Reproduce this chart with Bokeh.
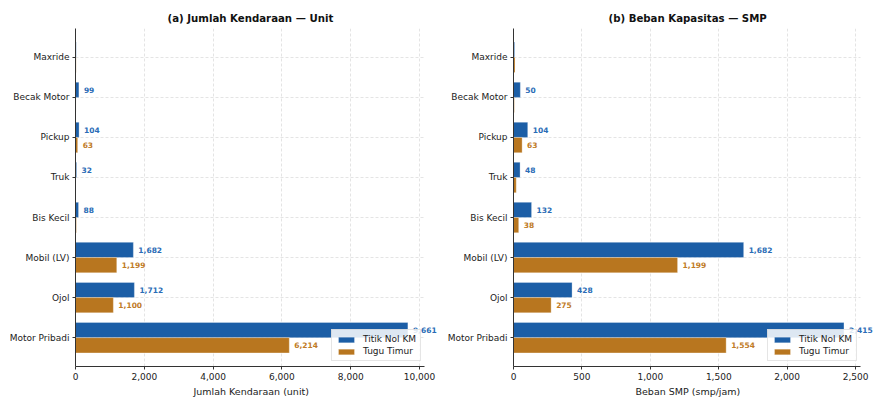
from bokeh.plotting import figure
from bokeh.models import (ColumnDataSource, FactorRange, Range1d, LabelSet,
                          Legend, LegendItem, NumeralTickFormatter, FixedTicker,
                          Title)
from bokeh.core.properties import value
from bokeh.transform import dodge
from bokeh.layouts import row
from bokeh.embed import file_html
from bokeh.resources import INLINE

# Vehicle classes, top to bottom
categories = ["Maxride", "Becak Motor", "Pickup", "Truk", "Bis Kecil",
              "Mobil (LV)", "Ojol", "Motor Pribadi"]

# Vehicle counts (unit)
unit_titik_nol = [20, 99, 104, 32, 88, 1682, 1712, 9661]
unit_tugu_timur = [18, 15, 63, 13, 25, 1199, 1100, 6214]

# Capacity load (smp/jam)
smp_titik_nol = [8, 50, 104, 48, 132, 1682, 428, 2415]
smp_tugu_timur = [11, 6, 63, 20, 38, 1199, 275, 1554]

unit_ticks = [0, 2000, 4000, 6000, 8000, 10000]
smp_ticks = [0, 500, 1000, 1500, 2000, 2500]

series_names = ["Titik Nol KM", "Tugu Timur"]
BLUE = "#1c5ea6"
ORANGE = "#b8761f"
BLUE_TXT = "#2a6cb6"
ORANGE_TXT = "#c07b26"
FONT = "DejaVu Sans"
LABEL_MIN = 30


def panel(title, title_offset, blue_vals, orange_vals, ticks, xlabel,
          xlabel_offset, width, left, right, frame_px, axis_px):
    factors = list(reversed(categories))
    y_range = FactorRange(factors=factors, range_padding=0.055)
    # axis spans 5% beyond the longest bar; the frame keeps extra room
    # on the right so the longest value label is not clipped
    axis_max = max(blue_vals + orange_vals) * 1.05
    x_max = axis_max * frame_px / axis_px
    p = figure(width=width, height=402, y_range=y_range,
               x_range=Range1d(0, x_max), title=title,
               output_backend="svg", toolbar_location=None,
               min_border_left=left, min_border_right=right,
               min_border_top=28, min_border_bottom=36)
    p.outline_line_color = None
    p.background_fill_color = "white"

    src_b = ColumnDataSource(dict(
        cat=categories, v=blue_vals,
        txt=[f"{v:,}" if v >= LABEL_MIN else "" for v in blue_vals]))
    src_o = ColumnDataSource(dict(
        cat=categories, v=orange_vals,
        txt=[f"{v:,}" if v >= LABEL_MIN else "" for v in orange_vals]))

    rb = p.hbar(y=dodge("cat", 0.19, range=p.y_range), right="v", left=0,
                height=0.38, source=src_b, fill_color=BLUE,
                line_color="white", line_width=0.3)
    ro = p.hbar(y=dodge("cat", -0.19, range=p.y_range), right="v", left=0,
                height=0.38, source=src_o, fill_color=ORANGE,
                line_color="white", line_width=0.3)

    for src, off, col in ((src_b, 0.19, BLUE_TXT), (src_o, -0.19, ORANGE_TXT)):
        lbl = LabelSet(x="v", y=dodge("cat", off, range=p.y_range), text="txt",
                       source=src, x_offset=5, text_baseline="middle",
                       text_font=value(FONT), text_font_style="bold",
                       text_font_size="7.5px", text_color=col)
        p.add_layout(lbl)

    legend = Legend(items=[LegendItem(label=series_names[0], renderers=[rb]),
                           LegendItem(label=series_names[1], renderers=[ro])],
                    location=(axis_px - 93, 5), label_text_font=FONT,
                    label_text_font_size="9px", label_text_color="#222222",
                    glyph_width=20, glyph_height=7, label_height=9,
                    label_standoff=7, spacing=2, padding=4, margin=0,
                    border_line_color="#cccccc", border_line_width=1,
                    background_fill_alpha=0.85)
    p.add_layout(legend)

    p.title.text_font = FONT
    p.title.text_font_size = "10.2px"
    p.title.text_font_style = "bold"
    p.title.align = "left"
    p.title.offset = title_offset
    p.title.text_color = "#111111"

    p.xaxis.ticker = FixedTicker(ticks=ticks)
    p.xaxis.formatter = NumeralTickFormatter(format="0,0")
    p.xaxis.bounds = (0, axis_max)
    for ax in (p.xaxis, p.yaxis):
        ax.axis_line_color = "#333333"
        ax.major_tick_line_color = "#333333"
        ax.major_tick_out = 3
        ax.major_tick_in = 0
        ax.minor_tick_line_color = None
        ax.major_label_text_font = FONT
        ax.major_label_text_font_size = "9px"
        ax.major_label_text_color = "#222222"
        ax.major_label_standoff = 3

    # x-axis caption, centred under the axis span rather than the frame
    p.add_layout(Title(text=xlabel, align="left", offset=xlabel_offset,
                       text_font=FONT, text_font_size="9.5px",
                       text_font_style="normal", text_color="#222222",
                       standoff=2), "below")

    p.xgrid.ticker = FixedTicker(ticks=ticks)
    for g in (p.xgrid, p.ygrid):
        g.grid_line_color = "#dddddd"
        g.grid_line_dash = "3 2"
        g.grid_line_width = 0.8
    if "cross_bounds" in p.ygrid.properties():
        p.ygrid.cross_bounds = (0, axis_max)
    return p


left_p = panel("(a) Jumlah Kendaraan \u2014 Unit", 92,
               unit_titik_nol, unit_tugu_timur, unit_ticks,
               "Jumlah Kendaraan (unit)", 118, 442, 75, 2, 365, 349)
right_p = panel("(b) Beban Kapasitas \u2014 SMP", 95,
                smp_titik_nol, smp_tugu_timur, smp_ticks,
                "Beban SMP (smp/jam)", 122, 431, 71, 0, 360, 347)

layout = row(left_p, right_p)
open("out.html", "w").write(file_html(layout, INLINE))
